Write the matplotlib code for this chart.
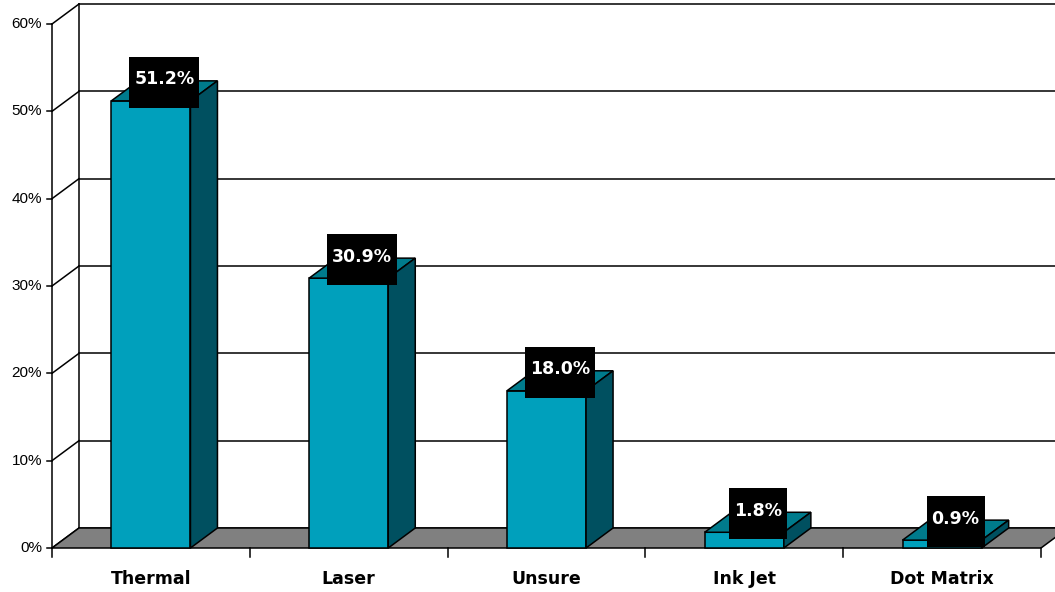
import matplotlib
matplotlib.use("Agg")
import matplotlib.pyplot as plt
from matplotlib.patches import Polygon, Rectangle
from matplotlib.lines import Line2D
from matplotlib.transforms import IdentityTransform
import numpy as np

# Data
categories = ["Thermal", "Laser", "Unsure", "Ink Jet", "Dot Matrix"]
shares = [51.2, 30.9, 18.0, 1.8, 0.9]
y_ticks = [0, 10, 20, 30, 40, 50, 60]
y_tick_labels = ["0%", "10%", "20%", "30%", "40%", "50%", "60%"]
value_labels = ["51.2%", "30.9%", "18.0%", "1.8%", "0.9%"]

# Styling
FRONT = "#00A0BC"
TOP = "#007B8C"
SIDE = "#005060"
FLOOR = "#808080"
DX, DY = 27, 20          # depth offset of the 3-D box, in pixels
BAR_W = 0.4              # bar width in category units
LW = 1.1
W, H = 1055, 592

fig = plt.figure(figsize=(W / 100, H / 100), dpi=100)
fig.patch.set_facecolor("white")
ax = fig.add_axes([52 / W, 44 / H, 989 / W, 524 / H])
ax.set_xlim(-0.5, len(categories) - 0.5)
ax.set_ylim(0, 60)
ax.axis("off")

ident = IdentityTransform()


def pt(x, y, depth=0.0):
    """Display-space point for data (x, y), pushed back by `depth` (0..1)."""
    px, py = ax.transData.transform((x, y))
    return (px + depth * DX, py + depth * DY)


def poly(points, fc, zorder, ec="black"):
    p = Polygon(points, closed=True, facecolor=fc, edgecolor=ec, lw=LW,
                transform=ident, zorder=zorder, clip_on=False)
    fig.add_artist(p)


def seg(a, b, zorder=2, lw=LW, color="black"):
    fig.add_artist(Line2D([a[0], b[0]], [a[1], b[1]], color=color, lw=lw,
                          transform=ident, zorder=zorder, clip_on=False))


x_left = -0.5
x_right = len(categories) - 0.5
x_wall_end = x_right + 0.3

# Back wall gridlines and left side wall
for t in y_ticks:
    seg(pt(x_left, t, 1), pt(x_wall_end, t, 1), zorder=1)
    seg(pt(x_left, t, 0), pt(x_left, t, 1), zorder=1)
seg(pt(x_left, 0, 1), pt(x_left, 60, 1), zorder=1)
seg(pt(x_left, 0, 0), pt(x_left, 60, 0), zorder=1)

# Floor
poly([pt(x_left, 0, 0), pt(x_right, 0, 0), pt(x_right, 0, 1),
      pt(x_wall_end + 0.2, 0, 1), pt(x_left, 0, 1)], FLOOR, zorder=2)

# Bars
for i, v in enumerate(shares):
    x0, x1 = i - BAR_W / 2, i + BAR_W / 2
    poly([pt(x0, 0), pt(x1, 0), pt(x1, v), pt(x0, v)], FRONT, zorder=3)
    poly([pt(x0, v), pt(x1, v), pt(x1, v, 1), pt(x0, v, 1)], TOP, zorder=3)
    poly([pt(x1, 0), pt(x1, 0, 1), pt(x1, v, 1), pt(x1, v)], SIDE, zorder=3)

# Axis ticks
for t, lab in zip(y_ticks, y_tick_labels):
    px, py = pt(x_left, t)
    seg((px - 5, py), (px, py), zorder=2)
    fig.text(px - 10, py, lab, transform=ident, ha="right", va="center",
             fontsize=11, family=["Liberation Sans", "DejaVu Sans"])
for b in np.arange(x_left, x_right + 0.01, 1.0):
    px, py = pt(b, 0)
    seg((px, py), (px, py - 9), zorder=2)
for i, c in enumerate(categories):
    px, py = pt(i, 0)
    fig.text(px, py - 31, c, transform=ident, ha="center", va="center",
             fontsize=12.5, fontweight="bold", family="DejaVu Sans")

# Value labels in black boxes
texts = []
for i, (v, lab) in enumerate(zip(shares, value_labels)):
    bx, by = pt(i, v, 1)
    cx = bx - DX / 2
    t = fig.text(cx, by + 1.5, lab, transform=ident, ha="center", va="center",
                 fontsize=12.5, fontweight="bold", color="white",
                 family="DejaVu Sans", zorder=6)
    texts.append((t, cx, by))

fig.canvas.draw()
renderer = fig.canvas.get_renderer()
for t, cx, by in texts:
    bb = t.get_window_extent(renderer)
    bw = bb.width + 10
    bh = 51
    fig.add_artist(Rectangle((cx - bw / 2, by - 1.5 - bh / 2), bw, bh,
                             facecolor="black", edgecolor="none",
                             transform=ident, zorder=5))

fig.savefig("out.png", dpi=100, facecolor="white")
